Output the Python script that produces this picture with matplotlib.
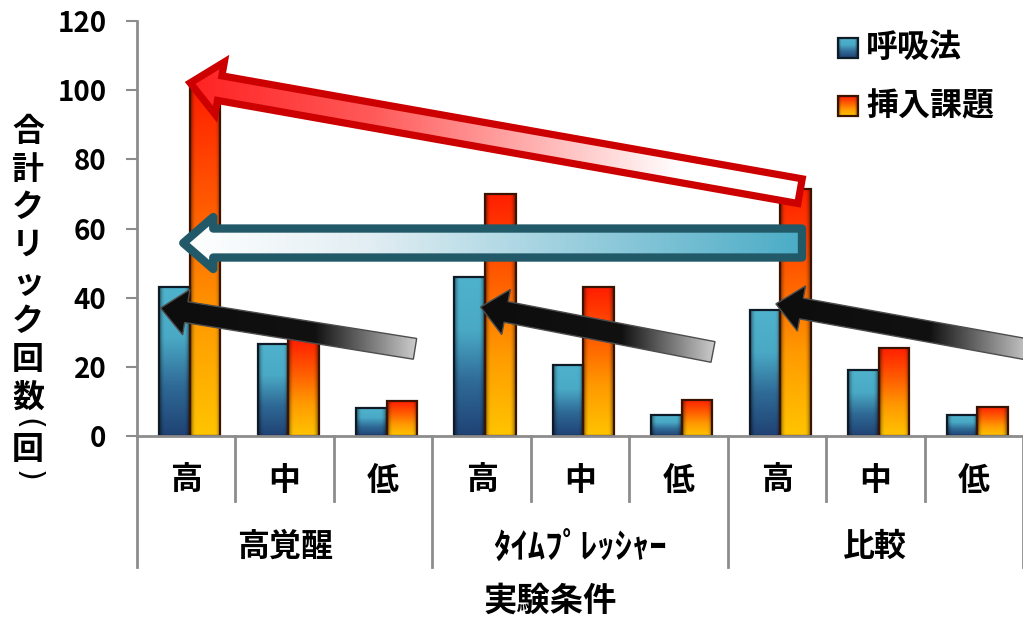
import numpy as np
import matplotlib
matplotlib.use("Agg")
import matplotlib.pyplot as plt
from matplotlib.colors import LinearSegmentedColormap
from matplotlib.patches import Rectangle, Polygon

plt.rcParams['font.family'] = ['Noto Sans CJK JP', 'DejaVu Sans']
plt.rcParams['font.weight'] = 'bold'

# chart data
groups = ['高覚醒', 'ﾀｲﾑﾌﾟﾚｯｼｬｰ', '比較']
levels = ['高', '中', '低']
breathing = [43, 26.5, 8, 46, 20.5, 6, 36.5, 19, 6]      # 呼吸法
insertion = [101, 28, 10, 70, 43, 10.5, 71.5, 25.5, 8.5]  # 挿入課題
series_names = ['呼吸法', '挿入課題']
y_ticks = [0, 20, 40, 60, 80, 100, 120]

# annotation arrows (tip, tail) in data coords
red_arrow = [(0.04, 102.1), (6.235, 70.8)]
teal_arrow = [(-0.03, 55.8), (6.255, 55.8)]
black_arrows = [[(-0.26, 37.0), (2.324, 25.2)],
                [(2.99, 37.3), (5.351, 24.3)],
                [(5.99, 38.2), (8.57, 24.9)]]

blue_cols = ['#1f4274', '#2f6a96', '#4aaac6', '#4fb2cc']
orange_cols = ['#ffc400', '#ff9a00', '#ff5a00', '#ff1e00']
grey = '#8c8c8c'
cjk_size = 23


# vertical colour gradient with darker side edges (bar "glow")
def bar_image(colors, ny=128, nx=40, edge=0.2, dark=0.5):
    cmap = LinearSegmentedColormap.from_list('g', colors)
    v = cmap(np.linspace(0, 1, ny))[:, :3]
    xs = np.linspace(0, 1, nx)
    d = np.minimum(xs, 1 - xs)
    shade = 1 - dark * np.clip(1 - d / edge, 0, 1) ** 2
    return v[:, None, :] * shade[None, :, None]


def draw_bar(ax, x0, w, h, colors, edge):
    rect = Rectangle((x0, 0), w, h, facecolor='none', edgecolor=edge, lw=1.6, zorder=3)
    ax.add_patch(rect)
    im = ax.imshow(bar_image(colors), extent=[x0, x0 + w, 0, h], origin='lower',
                   aspect='auto', zorder=2, interpolation='bilinear')
    im.set_clip_path(rect)


def arrow_pts(ax, tip, tail, w, h, L):
    T = ax.transData.transform(tip)
    S = ax.transData.transform(tail)
    u = (T - S) / np.hypot(*(T - S))
    n = np.array([-u[1], u[0]])
    B = T - u * L
    pts = [S + n * w, B + n * w, B + n * h, T, B - n * h, B - n * w, S - n * w]
    return ax.transData.inverted().transform(np.array(pts))


def draw_arrow(ax, tip, tail, w, h, L, colors, stops, edge, lw, z, join='miter'):
    pts = arrow_pts(ax, tip, tail, w, h, L)
    poly = Polygon(pts, closed=True, facecolor='none', edgecolor=edge, lw=lw,
                   joinstyle=join, zorder=z + 0.5)
    ax.add_patch(poly)
    cmap = LinearSegmentedColormap.from_list('a', list(zip(stops, colors)))
    grad = np.linspace(0, 1, 256)[None, :]
    x0, y0 = pts.min(axis=0)
    x1, y1 = pts.max(axis=0)
    im = ax.imshow(grad, extent=[x0, x1, y0, y1], origin='lower', cmap=cmap,
                   aspect='auto', zorder=z, interpolation='bilinear')
    im.set_clip_path(poly)


fig = plt.figure(figsize=(10.23, 6.19), dpi=100)
ax = fig.add_axes([137 / 1023, (619 - 436) / 619, 1 - 137 / 1023, 415 / 619])
ax.set_xlim(-0.5, 8.5)
ax.set_ylim(0, 120)
ax.set_autoscale_on(False)

bw = 0.31
for i in range(len(breathing)):
    draw_bar(ax, i - 0.275, bw, breathing[i], blue_cols, '#0e1a26')
    draw_bar(ax, i + 0.035, bw, insertion[i], orange_cols, '#3a1400')

# arrows
draw_arrow(ax, red_arrow[0], red_arrow[1], 12.5, 26.5, 30,
           ['#ff2222', '#ff5a5a', '#ffffff', '#ffffff'], [0, 0.3, 0.8, 1],
           '#cc0000', 5.2, 5)
draw_arrow(ax, teal_arrow[0], teal_arrow[1], 14.5, 26, 30,
           ['#ffffff', '#e2eef3', '#4bacc6'], [0, 0.3, 1],
           '#215968', 6, 6, join='round')
for tip, tail in black_arrows:
    draw_arrow(ax, tip, tail, 10.5, 23, 26,
               ['#0d0d0d', '#111111', '#cfcfcf'], [0, 0.6, 1],
               '#4d4d4d', 1.0, 7)

# axes styling
for s in ['top', 'right']:
    ax.spines[s].set_visible(False)
for s in ['left', 'bottom']:
    ax.spines[s].set_color(grey)
    ax.spines[s].set_linewidth(2)
    ax.spines[s].set_zorder(8)
ax.set_yticks(y_ticks)
ax.set_yticklabels([str(v) for v in y_ticks], fontsize=20, fontweight='bold')
ax.tick_params(axis='y', direction='out', length=8, width=1.5, color=grey, pad=14)
ax.set_xticks([])

# two-level category axis
xt = ax.get_xaxis_transform()
for k in range(len(breathing) + 1):
    xb = k - 0.5
    y_end = -0.316 if k % 3 == 0 else -0.157
    ax.plot([xb, xb], [0, y_end], transform=xt, color=grey, lw=2, clip_on=False)
for i in range(len(breathing)):
    ax.text(i, -0.108, levels[i % 3], transform=xt, ha='center', va='center',
            fontsize=cjk_size, fontweight='bold')
for g, name in enumerate(groups):
    ax.text(3 * g + 1, -0.267, name, transform=xt, ha='center', va='center',
            fontsize=cjk_size + (2 if g == 1 else 0), fontweight='bold')

fig.text(550 / 1023, (619 - 601) / 619, '実験条件', ha='center', va='center',
         fontsize=cjk_size + 1, fontweight='bold')

# vertical y label; brackets drawn as rotated ASCII parens (vertical form)
ylab = '合計クリック回数(回)'
yy = 132
prev = None
for ch in ylab:
    bracket = ch in '()'
    half = 7 if bracket else 19
    if prev is not None:
        yy += prev + half
    if bracket:
        fig.text(28 / 1023, (619 - yy) / 619, ch, ha='center', va='center',
                 rotation=-90, fontsize=22, fontweight='normal',
                 family='DejaVu Sans')
    else:
        fig.text(28 / 1023, (619 - yy) / 619, ch, ha='center', va='center',
                 fontsize=cjk_size, fontweight='bold')
    prev = half

# legend
for j, (name, cols, edge) in enumerate(zip(series_names, [blue_cols, orange_cols],
                                            ['#0e1a26', '#3a1400'])):
    top = 38 + j * 58
    x0, x1 = 838 / 1023, 858 / 1023
    y1, y0 = (619 - top) / 619, (619 - top - 20) / 619
    sq = Rectangle((x0, y0), x1 - x0, y1 - y0, transform=fig.transFigure,
                   facecolor='none', edgecolor=edge, lw=1.6, zorder=10)
    fig.patches.append(sq)
    axl = fig.add_axes([x0, y0, x1 - x0, y1 - y0])
    axl.imshow(bar_image(cols, nx=20), origin='lower', aspect='auto')
    axl.axis('off')
    fig.text(866 / 1023, (619 - top - 10) / 619, name, ha='left', va='center',
             fontsize=cjk_size, fontweight='bold')

fig.savefig('out.png', dpi=100)
